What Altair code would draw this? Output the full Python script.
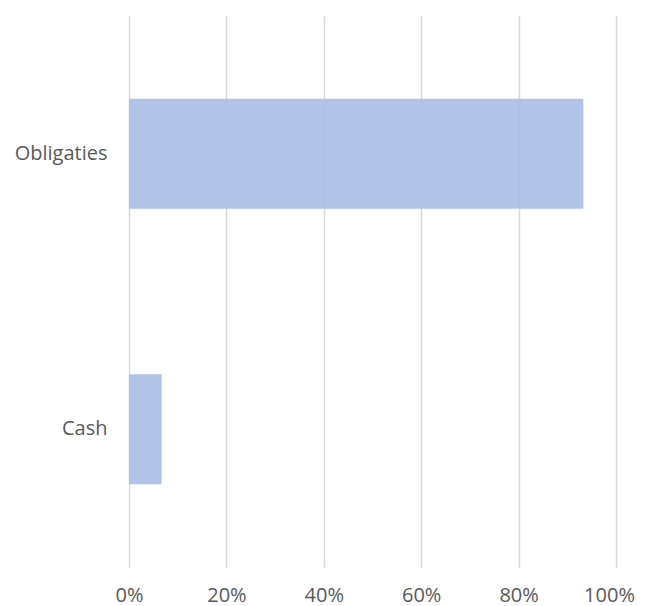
import altair as alt
import pandas as pd

categories = ["Obligaties", "Cash"]
values = [0.933, 0.067]

df = pd.DataFrame({"cat": categories, "val": values})

font = "Open Sans"
chart = alt.Chart(df).mark_bar(size=110, color="#A8BEE5", opacity=0.9).encode(
    x=alt.X("val:Q", scale=alt.Scale(domain=[0, 1], nice=False),
            axis=alt.Axis(format="%", values=[0, 0.2, 0.4, 0.6, 0.8, 1.0], title=None,
                          domain=False, ticks=False, grid=True, gridColor="#D9D9D9",
                          gridWidth=1.5, labelPadding=18, labelFontSize=20,
                          labelFlush=False, labelBound=False,
                          labelOffset={"condition": {"test": "datum.value >= 1", "value": -7}, "value": 0},
                          labelColor="#595959", labelFont=font)),
    y=alt.Y("cat:N", sort=categories,
            axis=alt.Axis(title=None, domain=False, ticks=False, labelPadding=22,
                          labelFontSize=20, labelColor="#595959", labelFont=font)),
).properties(
    width=487, height=551,
    autosize=alt.AutoSizeParams(type="none"),
    padding={"left": 121, "top": 8, "right": 21, "bottom": 38},
).configure_view(stroke=None)

chart.save("out.html", embed_options={"renderer": "svg", "actions": False})
